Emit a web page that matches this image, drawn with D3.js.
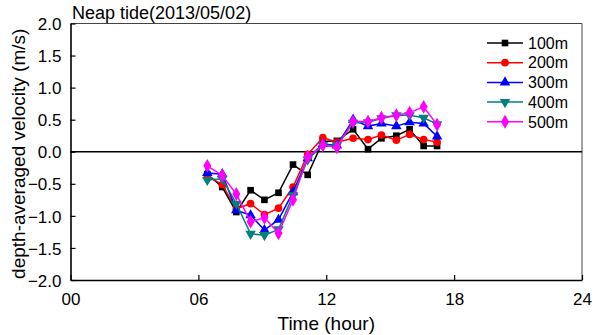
<!DOCTYPE html>
<html>
<head>
<meta charset="utf-8">
<script src="https://cdn.jsdelivr.net/npm/d3@7"></script>
<style>
  body { margin: 0; background: #fff; }
  text { font-family: "Liberation Sans", Arial, sans-serif; fill: #000; }
</style>
</head>
<body>
<svg id="chart" width="595" height="335"></svg>
<script>
"use strict";

// measurement times (decimal hours)
var hours = [6.42, 7.12, 7.78, 8.45, 9.1, 9.76, 10.44, 11.13, 11.84, 12.5, 13.26, 13.96, 14.59, 15.29, 15.91, 16.57, 17.2];

var v100 = [-0.35, -0.55, -0.94, -0.6, -0.75, -0.64, -0.2, -0.36, 0.16, 0.17, 0.35, 0.04, 0.21, 0.25, 0.35, 0.09, 0.09];
var v200 = [-0.38, -0.51, -0.89, -0.81, -0.98, -0.88, -0.55, -0.04, 0.22, 0.15, 0.21, 0.19, 0.26, 0.18, 0.27, 0.19, 0.15];
var v300 = [-0.33, -0.35, -0.91, -0.99, -1.22, -1.06, -0.63, -0.1, 0.12, 0.1, 0.5, 0.4, 0.44, 0.4, 0.46, 0.44, 0.24];
var v400 = [-0.44, -0.42, -0.81, -1.28, -1.3, -1.21, -0.68, -0.12, 0.1, 0.1, 0.45, 0.46, 0.52, 0.57, 0.57, 0.53, 0.43];
var v500 = [-0.22, -0.37, -0.66, -1.09, -1.03, -1.27, -0.75, -0.08, 0.1, 0.07, 0.47, 0.47, 0.53, 0.57, 0.61, 0.7, 0.42];

var seriesNames = ["100m", "200m", "300m", "400m", "500m"];
var seriesValues = [v100, v200, v300, v400, v500];
var seriesColors = ["#000000", "#ff0000", "#0000ff", "#008080", "#ff00ff"];
var seriesSymbols = [d3.symbolSquare, d3.symbolCircle, d3.symbolTriangle, d3.symbolTriangle, d3.symbolDiamond];

var xTicks = [0, 6, 12, 18, 24];
var xTickLabels = ["00", "06", "12", "18", "24"];
var yTicks = [-2, -1.5, -1, -0.5, 0, 0.5, 1, 1.5, 2];

var svg = d3.select("#chart");
var margin = {left: 70.5, right: 13, top: 23.5, bottom: 55};
var W = 595, H = 335;

var x = d3.scaleLinear().domain([0, 24]).range([margin.left, W - margin.right]);
var y = d3.scaleLinear().domain([-2, 2]).range([H - margin.bottom, margin.top]);

// frame: top and right thin, left and bottom heavier
svg.append("line").attr("x1", x(0)).attr("x2", x(24)).attr("y1", y(2)).attr("y2", y(2))
  .attr("stroke", "#444").attr("stroke-width", 1);
svg.append("line").attr("x1", x(24)).attr("x2", x(24)).attr("y1", y(2)).attr("y2", y(-2))
  .attr("stroke", "#444").attr("stroke-width", 1);

// zero line
svg.append("line").attr("x1", x(0)).attr("x2", x(24)).attr("y1", y(0)).attr("y2", y(0))
  .attr("stroke", "#000").attr("stroke-width", 1.3);

var xAxis = d3.axisBottom(x).tickValues(xTicks)
  .tickFormat(function(d, i) { return xTickLabels[i]; })
  .tickSizeInner(-5).tickSizeOuter(0).tickPadding(12);
var gx = svg.append("g").attr("transform", "translate(0," + y(-2) + ")").call(xAxis);

var yAxis = d3.axisLeft(y).tickValues(yTicks).tickFormat(d3.format(".1f"))
  .tickSizeInner(-5).tickSizeOuter(0).tickPadding(9);
var gy = svg.append("g").attr("transform", "translate(" + x(0) + ",0)").call(yAxis);

[gx, gy].forEach(function(g) {
  g.select(".domain").attr("stroke", "#000").attr("stroke-width", 1.6);
  g.selectAll(".tick line").attr("stroke", "#000").attr("stroke-width", 1.2);
  g.selectAll(".tick text").style("font-size", "17px").attr("fill", "#000")
    .style("font-family", "'Liberation Sans', Arial, sans-serif");
});
gy.selectAll(".tick text").attr("dy", "0.36em");
gx.selectAll(".tick text").attr("dy", "0.75em");

// series
var line = d3.line().x(function(d) { return x(d[0]); }).y(function(d) { return y(d[1]); });

function symbolFor(i, size) {
  var sym = d3.symbol().type(seriesSymbols[i]).size(size);
  return sym();
}
var symSizes = [44, 46, 48, 48, 56];

seriesValues.forEach(function(vals, i) {
  var pts = hours.map(function(h, j) { return [h, vals[j]]; });
  var g = svg.append("g");
  g.append("path").datum(pts).attr("d", line)
    .attr("fill", "none").attr("stroke", seriesColors[i]).attr("stroke-width", 1.5);
  g.selectAll("path.mark").data(pts).enter().append("path")
    .attr("class", "mark")
    .attr("d", symbolFor(i, symSizes[i]))
    .attr("transform", function(d) {
      var t = "translate(" + x(d[0]) + "," + y(d[1]) + ")";
      return i === 3 ? t + " rotate(180)" : t;
    })
    .attr("fill", seriesColors[i]);
});

// legend
var legend = svg.append("g");
seriesNames.forEach(function(name, i) {
  var ly = 43 + i * 19.7;
  legend.append("line").attr("x1", 487).attr("x2", 523).attr("y1", ly).attr("y2", ly)
    .attr("stroke", seriesColors[i]).attr("stroke-width", 1.5);
  legend.append("path").attr("d", symbolFor(i, symSizes[i]))
    .attr("transform", "translate(505," + ly + ")" + (i === 3 ? " rotate(180)" : ""))
    .attr("fill", seriesColors[i]);
  legend.append("text").attr("x", 528).attr("y", ly).attr("dy", "0.36em")
    .style("font-size", "16px").text(name);
});

// titles
svg.append("text").attr("x", 72).attr("y", 19).style("font-size", "18px")
  .text("Neap tide(2013/05/02)");

svg.append("text").attr("x", (x(0) + x(24)) / 2).attr("y", 330).attr("text-anchor", "middle")
  .style("font-size", "19px").text("Time (hour)");

svg.append("text").attr("transform", "translate(18," + (y(0) + 2) + ") rotate(-90)")
  .attr("text-anchor", "middle").attr("dy", "0.36em")
  .style("font-size", "19px").text("depth-averaged velocity (m/s)");
</script>
</body>
</html>
